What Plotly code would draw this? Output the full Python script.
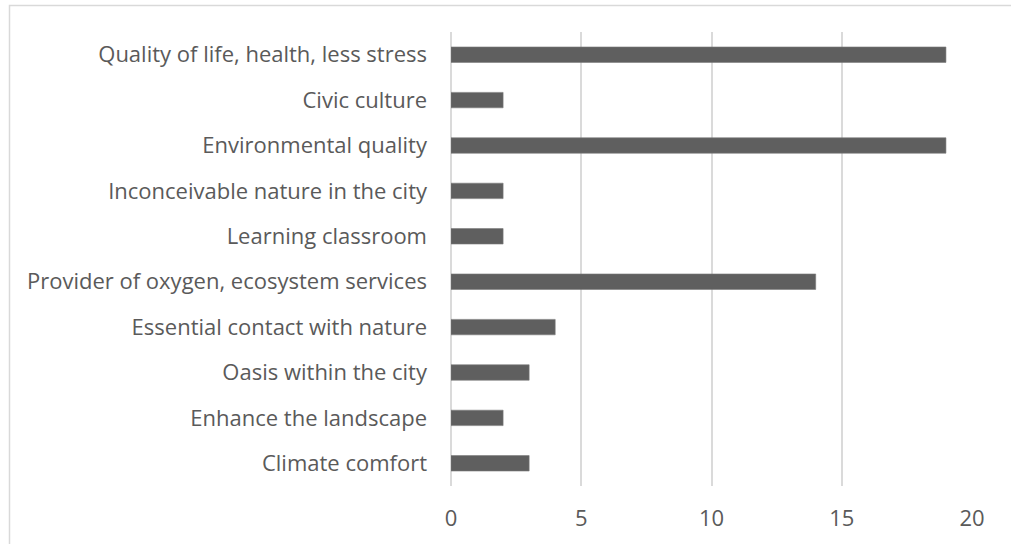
import plotly.graph_objects as go

# Perceived benefits, listed top to bottom
categories = [
    "Quality of life, health, less stress",
    "Civic culture",
    "Environmental quality",
    "Inconceivable nature in the city",
    "Learning classroom",
    "Provider of oxygen, ecosystem services",
    "Essential contact with nature",
    "Oasis within the city",
    "Enhance the landscape",
    "Climate comfort",
]
counts = [19, 2, 19, 2, 2, 14, 4, 3, 2, 3]
x_ticks = [0, 5, 10, 15, 20]

W, H = 1011, 544
L, R, T, B = 451, 39, 32, 58
pw, ph = W - L - R, H - T - B

text_font = dict(family="Open Sans, Liberation Sans, sans-serif", size=22, color="#5a5a5a")

fig = go.Figure(
    go.Bar(
        x=counts,
        y=categories,
        orientation="h",
        marker=dict(color="#5f5f5f", line=dict(color="#7a7a7a", width=0.6)),
        hoverinfo="x+y",
    )
)

fig.update_layout(
    width=W,
    height=H,
    margin=dict(l=L, r=R, t=T, b=B, pad=0),
    paper_bgcolor="white",
    plot_bgcolor="white",
    bargap=0.66,
    showlegend=False,
    font=text_font,
    xaxis=dict(
        range=[0, 20],
        tickvals=x_ticks,
        ticktext=[str(v) for v in x_ticks],
        showgrid=True,
        gridcolor="#dadada",
        gridwidth=1.6,
        zeroline=True,
        zerolinecolor="#dadada",
        zerolinewidth=1.6,
        showline=False,
        ticks="",
        ticklabelstandoff=17,
        tickfont=text_font,
        fixedrange=True,
    ),
    yaxis=dict(
        autorange="reversed",
        showgrid=False,
        zeroline=False,
        showline=False,
        ticks="",
        ticklabelstandoff=23,
        tickfont=text_font,
        fixedrange=True,
    ),
    shapes=[
        # outer chart frame
        dict(
            type="rect",
            xref="paper",
            yref="paper",
            x0=(9.5 - L) / pw,
            x1=(W + 20 - L) / pw,
            y0=-(H + 20 - (H - B)) / ph,
            y1=1 + (T - 5.5) / ph,
            line=dict(color="#d9d9d9", width=1.5),
            fillcolor="rgba(0,0,0,0)",
            layer="below",
        )
    ],
)

fig.write_html("out.html")
